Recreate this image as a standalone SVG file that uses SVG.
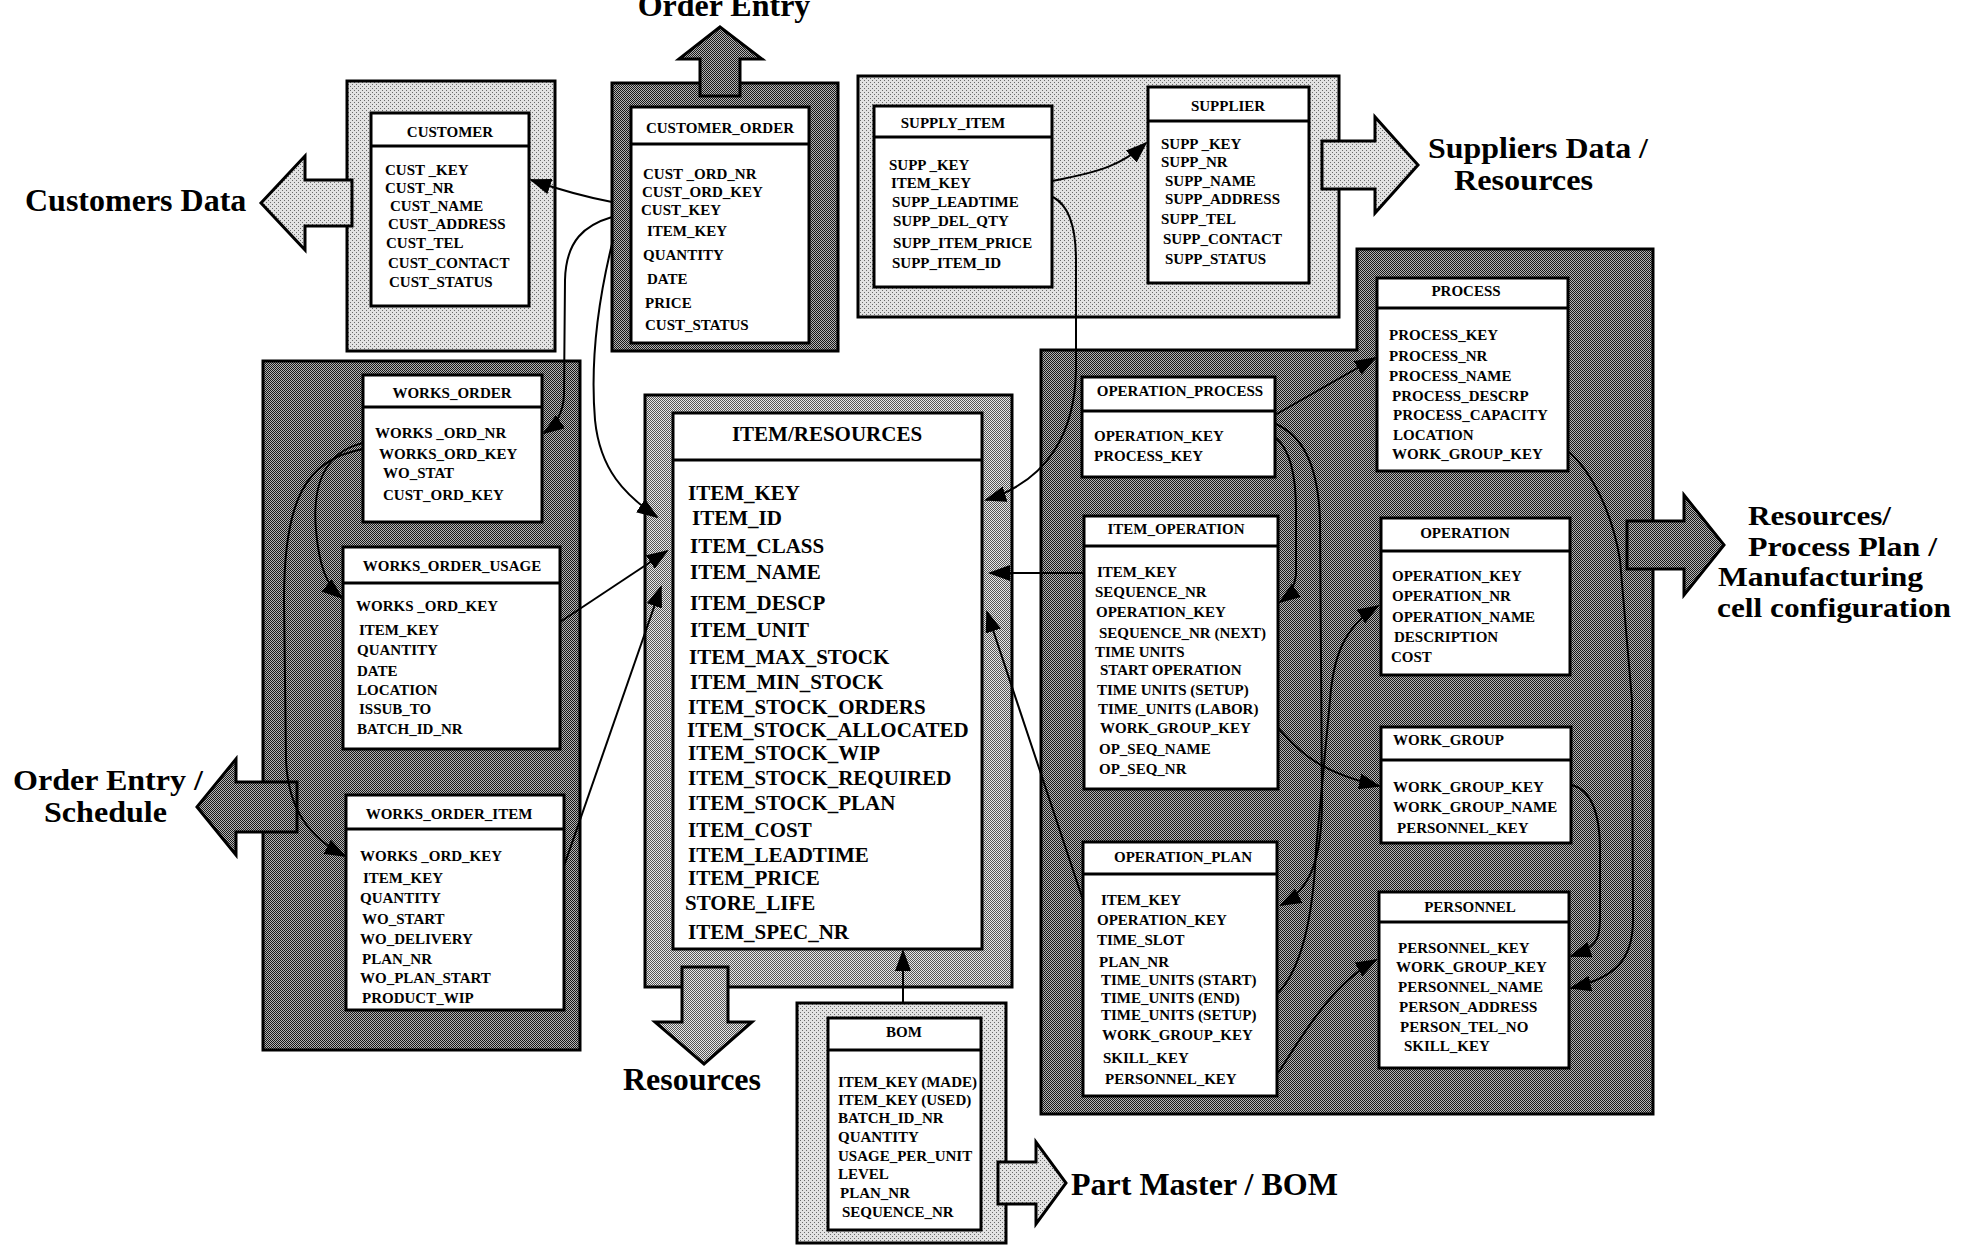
<svg xmlns="http://www.w3.org/2000/svg" width="1974" height="1245" viewBox="0 0 1974 1245">
<defs>
<pattern id="pL" width="4" height="4" patternUnits="userSpaceOnUse"><rect width="4" height="4" fill="#e2e2e2"/><rect width="1" height="1" fill="#6a6a6a"/><rect x="2" y="2" width="1" height="1" fill="#6a6a6a"/></pattern>
<pattern id="pM" width="2" height="2" patternUnits="userSpaceOnUse"><rect width="2" height="2" fill="#e8e8e8"/><rect width="1" height="1" fill="#555"/><rect x="1" y="1" width="1" height="1" fill="#555"/></pattern>
<pattern id="pD" width="2" height="2" patternUnits="userSpaceOnUse"><rect width="2" height="2" fill="#b4b4b4"/><rect width="1" height="1" fill="#181818"/><rect x="1" y="1" width="1" height="1" fill="#181818"/></pattern>
<marker id="ah" markerUnits="userSpaceOnUse" markerWidth="22" markerHeight="16" refX="20" refY="8" orient="auto"><path d="M0,0 L22,8 L0,16 z" fill="#000"/></marker>
</defs>
<style>
.box{stroke:#000;stroke-width:3}
.tb{fill:#fff;stroke:#000;stroke-width:3}
.hl{stroke:#000;stroke-width:3}
.ar{stroke:#000;stroke-width:3;stroke-linejoin:miter}
.h{font-family:"Liberation Serif",serif;font-weight:bold;font-size:15px;text-anchor:middle}
.f{font-family:"Liberation Serif",serif;font-weight:bold;font-size:15px}
.ir{font-family:"Liberation Serif",serif;font-weight:bold;font-size:21px}
.irh{font-family:"Liberation Serif",serif;font-weight:bold;font-size:21px;text-anchor:middle}
.big{font-family:"Liberation Serif",serif;font-weight:bold;font-size:32px}
.b29{font-family:"Liberation Serif",serif;font-weight:bold;font-size:29px}
.b27{font-family:"Liberation Serif",serif;font-weight:bold;font-size:27px}
.c{fill:none;stroke:#000;stroke-width:2;marker-end:url(#ah)}
</style>
<rect width="1974" height="1245" fill="#fff"/>

<!-- background regions -->
<g id="region-customer"><rect class="box" x="347" y="81" width="208" height="270" fill="url(#pL)"/></g>
<g id="region-customer-order"><rect class="box" x="612" y="83" width="226" height="268" fill="url(#pD)"/></g>
<g id="region-supply"><rect class="box" x="858" y="76" width="481" height="241" fill="url(#pL)"/></g>
<g id="region-works"><rect class="box" x="263" y="361" width="317" height="689" fill="url(#pD)"/></g>
<g id="region-item"><rect class="box" x="645" y="395" width="367" height="592" fill="url(#pM)"/></g>
<g id="region-bom"><rect class="box" x="797" y="1003" width="209" height="240" fill="url(#pL)"/></g>
<g id="region-process"><path class="box" d="M1041,350 L1357,350 L1357,249 L1653,249 L1653,1114 L1041,1114 Z" fill="url(#pD)"/></g>

<!-- block arrows and labels -->
<g id="out-customers">
<polygon class="ar" points="261,203 305,156 305,180 352,180 352,226 305,226 305,250" fill="url(#pL)"/>
<text class="big" x="25" y="211">Customers Data</text>
</g>
<g id="out-order-entry">
<polygon class="ar" points="720,27 762,59 740,59 740,96 700,96 700,59 679,59" fill="url(#pD)"/>
<text class="big" x="724" y="16" text-anchor="middle">Order Entry</text>
</g>
<g id="out-suppliers">
<polygon class="ar" points="1322,141 1375,141 1375,117 1418,165 1375,213 1375,189 1322,189" fill="url(#pL)"/>
<text class="b29" x="1428" y="158" textLength="220" lengthAdjust="spacingAndGlyphs">Suppliers Data /</text>
<text class="b29" x="1454" y="190" textLength="139" lengthAdjust="spacingAndGlyphs">Resources</text>
</g>
<g id="out-schedule">
<polygon class="ar" points="197,807 236,759 236,782 297,782 297,832 236,832 236,855" fill="url(#pD)"/>
<text class="b29" x="13" y="790" textLength="190" lengthAdjust="spacingAndGlyphs">Order Entry /</text>
<text class="b29" x="44" y="822" textLength="123" lengthAdjust="spacingAndGlyphs">Schedule</text>
</g>
<g id="out-resources">
<polygon class="ar" points="682,967 728,967 728,1022 752,1022 704,1064 655,1022 682,1022" fill="url(#pM)"/>
<text class="big" x="692" y="1090" text-anchor="middle">Resources</text>
</g>
<g id="out-partmaster">
<polygon class="ar" points="998,1162 1036,1162 1036,1142 1066,1183 1036,1224 1036,1204 998,1204" fill="url(#pL)"/>
<text class="big" x="1071" y="1195">Part Master / BOM</text>
</g>
<g id="out-process-plan">
<polygon class="ar" points="1627,521 1684,521 1684,495 1724,545 1684,595 1684,569 1627,569" fill="url(#pD)"/>
<text class="b27" x="1748" y="525" textLength="143" lengthAdjust="spacingAndGlyphs">Resources/</text>
<text class="b27" x="1748" y="556" textLength="189" lengthAdjust="spacingAndGlyphs">Process Plan /</text>
<text class="b27" x="1718" y="586" textLength="205" lengthAdjust="spacingAndGlyphs">Manufacturing</text>
<text class="b27" x="1717" y="617" textLength="234" lengthAdjust="spacingAndGlyphs">cell configuration</text>
</g>

<!-- tables -->
<g id="customer">
<rect class="tb" x="371" y="113" width="158" height="193"/><line class="hl" x1="371" y1="146" x2="529" y2="146"/>
<text class="h" x="450" y="137">CUSTOMER</text>
<text class="f" x="385" y="175">CUST _KEY</text>
<text class="f" x="385" y="193">CUST_NR</text>
<text class="f" x="390" y="211">CUST_NAME</text>
<text class="f" x="388" y="229">CUST_ADDRESS</text>
<text class="f" x="386" y="248">CUST_TEL</text>
<text class="f" x="388" y="268">CUST_CONTACT</text>
<text class="f" x="389" y="287">CUST_STATUS</text>
</g>
<g id="customer-order">
<rect class="tb" x="631" y="107" width="178" height="236"/><line class="hl" x1="631" y1="144" x2="809" y2="144"/>
<text class="h" x="720" y="133">CUSTOMER_ORDER</text>
<text class="f" x="643" y="179">CUST _ORD_NR</text>
<text class="f" x="642" y="197">CUST_ORD_KEY</text>
<text class="f" x="641" y="215">CUST_KEY</text>
<text class="f" x="647" y="236">ITEM_KEY</text>
<text class="f" x="643" y="260">QUANTITY</text>
<text class="f" x="647" y="284">DATE</text>
<text class="f" x="645" y="308">PRICE</text>
<text class="f" x="645" y="330">CUST_STATUS</text>
</g>
<g id="supply-item">
<rect class="tb" x="874" y="106" width="178" height="181"/><line class="hl" x1="874" y1="137" x2="1052" y2="137"/>
<text class="h" x="953" y="128">SUPPLY_ITEM</text>
<text class="f" x="889" y="170">SUPP _KEY</text>
<text class="f" x="891" y="188">ITEM_KEY</text>
<text class="f" x="892" y="207">SUPP_LEADTIME</text>
<text class="f" x="893" y="226">SUPP_DEL_QTY</text>
<text class="f" x="893" y="248">SUPP_ITEM_PRICE</text>
<text class="f" x="892" y="268">SUPP_ITEM_ID</text>
</g>
<g id="supplier">
<rect class="tb" x="1148" y="87" width="161" height="196"/><line class="hl" x1="1148" y1="121" x2="1309" y2="121"/>
<text class="h" x="1228" y="111">SUPPLIER</text>
<text class="f" x="1161" y="149">SUPP _KEY</text>
<text class="f" x="1161" y="167">SUPP_NR</text>
<text class="f" x="1165" y="186">SUPP_NAME</text>
<text class="f" x="1165" y="204">SUPP_ADDRESS</text>
<text class="f" x="1161" y="224">SUPP_TEL</text>
<text class="f" x="1163" y="244">SUPP_CONTACT</text>
<text class="f" x="1165" y="264">SUPP_STATUS</text>
</g>
<g id="works-order">
<rect class="tb" x="363" y="375" width="179" height="147"/><line class="hl" x1="363" y1="407" x2="542" y2="407"/>
<text class="h" x="452" y="398">WORKS_ORDER</text>
<text class="f" x="375" y="438">WORKS _ORD_NR</text>
<text class="f" x="379" y="459">WORKS_ORD_KEY</text>
<text class="f" x="383" y="478">WO_STAT</text>
<text class="f" x="383" y="500">CUST_ORD_KEY</text>
</g>
<g id="works-order-usage">
<rect class="tb" x="343" y="547" width="217" height="202"/><line class="hl" x1="343" y1="583" x2="560" y2="583"/>
<text class="h" x="452" y="571">WORKS_ORDER_USAGE</text>
<text class="f" x="356" y="611">WORKS _ORD_KEY</text>
<text class="f" x="359" y="635">ITEM_KEY</text>
<text class="f" x="357" y="655">QUANTITY</text>
<text class="f" x="357" y="676">DATE</text>
<text class="f" x="357" y="695">LOCATION</text>
<text class="f" x="359" y="714">ISSUB_TO</text>
<text class="f" x="357" y="734">BATCH_ID_NR</text>
</g>
<g id="works-order-item">
<rect class="tb" x="346" y="795" width="218" height="215"/><line class="hl" x1="346" y1="829" x2="564" y2="829"/>
<text class="h" x="449" y="819">WORKS_ORDER_ITEM</text>
<text class="f" x="360" y="861">WORKS _ORD_KEY</text>
<text class="f" x="363" y="883">ITEM_KEY</text>
<text class="f" x="360" y="903">QUANTITY</text>
<text class="f" x="362" y="924">WO_START</text>
<text class="f" x="360" y="944">WO_DELIVERY</text>
<text class="f" x="362" y="964">PLAN_NR</text>
<text class="f" x="360" y="983">WO_PLAN_START</text>
<text class="f" x="362" y="1003">PRODUCT_WIP</text>
</g>
<g id="item-resources">
<rect class="tb" x="673" y="413" width="309" height="536"/><line class="hl" x1="673" y1="460" x2="982" y2="460"/>
<text class="irh" x="827" y="441">ITEM/RESOURCES</text>
<text class="ir" x="688" y="500">ITEM_KEY</text>
<text class="ir" x="692" y="525">ITEM_ID</text>
<text class="ir" x="690" y="553">ITEM_CLASS</text>
<text class="ir" x="690" y="579">ITEM_NAME</text>
<text class="ir" x="690" y="610">ITEM_DESCP</text>
<text class="ir" x="690" y="637">ITEM_UNIT</text>
<text class="ir" x="689" y="664">ITEM_MAX_STOCK</text>
<text class="ir" x="690" y="689">ITEM_MIN_STOCK</text>
<text class="ir" x="688" y="714">ITEM_STOCK_ORDERS</text>
<text class="ir" x="687" y="737">ITEM_STOCK_ALLOCATED</text>
<text class="ir" x="688" y="760">ITEM_STOCK_WIP</text>
<text class="ir" x="688" y="785">ITEM_STOCK_REQUIRED</text>
<text class="ir" x="688" y="810">ITEM_STOCK_PLAN</text>
<text class="ir" x="688" y="837">ITEM_COST</text>
<text class="ir" x="688" y="862">ITEM_LEADTIME</text>
<text class="ir" x="688" y="885">ITEM_PRICE</text>
<text class="ir" x="685" y="910">STORE_LIFE</text>
<text class="ir" x="688" y="939">ITEM_SPEC_NR</text>
</g>
<g id="bom">
<rect class="tb" x="828" y="1018" width="153" height="212"/><line class="hl" x1="828" y1="1050" x2="981" y2="1050"/>
<text class="h" x="904" y="1037">BOM</text>
<text class="f" x="838" y="1087">ITEM_KEY (MADE)</text>
<text class="f" x="838" y="1105">ITEM_KEY (USED)</text>
<text class="f" x="838" y="1123">BATCH_ID_NR</text>
<text class="f" x="838" y="1142">QUANTITY</text>
<text class="f" x="838" y="1161">USAGE_PER_UNIT</text>
<text class="f" x="838" y="1179">LEVEL</text>
<text class="f" x="840" y="1198">PLAN_NR</text>
<text class="f" x="842" y="1217">SEQUENCE_NR</text>
</g>
<g id="process">
<rect class="tb" x="1377" y="278" width="191" height="193"/><line class="hl" x1="1377" y1="308" x2="1568" y2="308"/>
<text class="h" x="1466" y="296">PROCESS</text>
<text class="f" x="1389" y="340">PROCESS_KEY</text>
<text class="f" x="1389" y="361">PROCESS_NR</text>
<text class="f" x="1389" y="381">PROCESS_NAME</text>
<text class="f" x="1392" y="401">PROCESS_DESCRP</text>
<text class="f" x="1393" y="420">PROCESS_CAPACITY</text>
<text class="f" x="1393" y="440">LOCATION</text>
<text class="f" x="1392" y="459">WORK_GROUP_KEY</text>
</g>
<g id="operation-process">
<rect class="tb" x="1082" y="377" width="193" height="100"/><line class="hl" x1="1082" y1="411" x2="1275" y2="411"/>
<text class="h" x="1180" y="396">OPERATION_PROCESS</text>
<text class="f" x="1094" y="441">OPERATION_KEY</text>
<text class="f" x="1094" y="461">PROCESS_KEY</text>
</g>
<g id="item-operation">
<rect class="tb" x="1084" y="516" width="194" height="273"/><line class="hl" x1="1084" y1="546" x2="1278" y2="546"/>
<text class="h" x="1176" y="534">ITEM_OPERATION</text>
<text class="f" x="1097" y="577">ITEM_KEY</text>
<text class="f" x="1095" y="597">SEQUENCE_NR</text>
<text class="f" x="1096" y="617">OPERATION_KEY</text>
<text class="f" x="1099" y="638">SEQUENCE_NR (NEXT)</text>
<text class="f" x="1095" y="657">TIME UNITS</text>
<text class="f" x="1100" y="675">START OPERATION</text>
<text class="f" x="1097" y="695">TIME UNITS (SETUP)</text>
<text class="f" x="1098" y="714">TIME_UNITS (LABOR)</text>
<text class="f" x="1100" y="733">WORK_GROUP_KEY</text>
<text class="f" x="1099" y="754">OP_SEQ_NAME</text>
<text class="f" x="1099" y="774">OP_SEQ_NR</text>
</g>
<g id="operation">
<rect class="tb" x="1381" y="518" width="189" height="157"/><line class="hl" x1="1381" y1="551" x2="1570" y2="551"/>
<text class="h" x="1465" y="538">OPERATION</text>
<text class="f" x="1392" y="581">OPERATION_KEY</text>
<text class="f" x="1392" y="601">OPERATION_NR</text>
<text class="f" x="1392" y="622">OPERATION_NAME</text>
<text class="f" x="1394" y="642">DESCRIPTION</text>
<text class="f" x="1391" y="662">COST</text>
</g>
<g id="work-group">
<rect class="tb" x="1381" y="727" width="190" height="116"/><line class="hl" x1="1381" y1="760" x2="1571" y2="760"/>
<text class="f" x="1393" y="745">WORK_GROUP</text>
<text class="f" x="1393" y="792">WORK_GROUP_KEY</text>
<text class="f" x="1393" y="812">WORK_GROUP_NAME</text>
<text class="f" x="1397" y="833">PERSONNEL_KEY</text>
</g>
<g id="personnel">
<rect class="tb" x="1379" y="892" width="190" height="176"/><line class="hl" x1="1379" y1="922" x2="1569" y2="922"/>
<text class="h" x="1470" y="912">PERSONNEL</text>
<text class="f" x="1398" y="953">PERSONNEL_KEY</text>
<text class="f" x="1396" y="972">WORK_GROUP_KEY</text>
<text class="f" x="1398" y="992">PERSONNEL_NAME</text>
<text class="f" x="1399" y="1012">PERSON_ADDRESS</text>
<text class="f" x="1400" y="1032">PERSON_TEL_NO</text>
<text class="f" x="1404" y="1051">SKILL_KEY</text>
</g>
<g id="operation-plan">
<rect class="tb" x="1083" y="842" width="194" height="254"/><line class="hl" x1="1083" y1="874" x2="1277" y2="874"/>
<text class="h" x="1183" y="862">OPERATION_PLAN</text>
<text class="f" x="1101" y="905">ITEM_KEY</text>
<text class="f" x="1097" y="925">OPERATION_KEY</text>
<text class="f" x="1097" y="945">TIME_SLOT</text>
<text class="f" x="1099" y="967">PLAN_NR</text>
<text class="f" x="1101" y="985">TIME_UNITS (START)</text>
<text class="f" x="1101" y="1003">TIME_UNITS (END)</text>
<text class="f" x="1101" y="1020">TIME_UNITS (SETUP)</text>
<text class="f" x="1102" y="1040">WORK_GROUP_KEY</text>
<text class="f" x="1103" y="1063">SKILL_KEY</text>
<text class="f" x="1105" y="1084">PERSONNEL_KEY</text>
</g>

<!-- connectors -->
<g id="connectors">
<path class="c" d="M612,202 Q575,195 531,180"/>
<path class="c" d="M612,217 C585,225 566,240 565,280 L564,395 Q563,420 544,433"/>
<path class="c" d="M613,240 C598,300 590,360 595,420 C600,470 625,495 657,517"/>
<path class="c" d="M560,622 L667,551"/>
<path class="c" d="M564,866 L661,587"/>
<path class="c" d="M363,443 C325,452 312,485 316,530 C319,565 326,585 342,598"/>
<path class="c" d="M363,449 C305,460 284,500 284,600 L286,760 C288,810 310,838 345,856"/>
<path class="c" d="M1052,181 C1100,172 1122,165 1146,143"/>
<path class="c" d="M1053,197 C1068,205 1076,225 1076,260 L1076,370 C1075,430 1050,480 986,500"/>
<path class="c" d="M1084,573 L990,573"/>
<path class="c" d="M1083,900 L987,612"/>
<path class="c" d="M1275,415 L1375,358"/>
<path class="c" d="M1276,438 C1290,450 1296,475 1296,510 L1296,575 Q1294,592 1280,602"/>
<path class="c" d="M1276,424 C1300,435 1318,460 1320,520 L1322,800 C1322,860 1310,890 1281,905"/>
<path class="c" d="M1278,993 C1300,970 1313,920 1316,850 L1330,700 C1333,660 1342,628 1378,606"/>
<path class="c" d="M1278,728 C1295,745 1310,770 1379,786"/>
<path class="c" d="M1278,1073 C1300,1040 1330,985 1376,960"/>
<path class="c" d="M1572,785 C1590,790 1600,810 1600,850 L1600,920 C1600,940 1595,948 1571,956"/>
<path class="c" d="M1569,452 C1590,470 1612,510 1620,560 L1632,700 L1633,920 C1633,960 1615,978 1571,988"/>
<path class="c" d="M903,1003 L903,951"/>
</g>
</svg>
